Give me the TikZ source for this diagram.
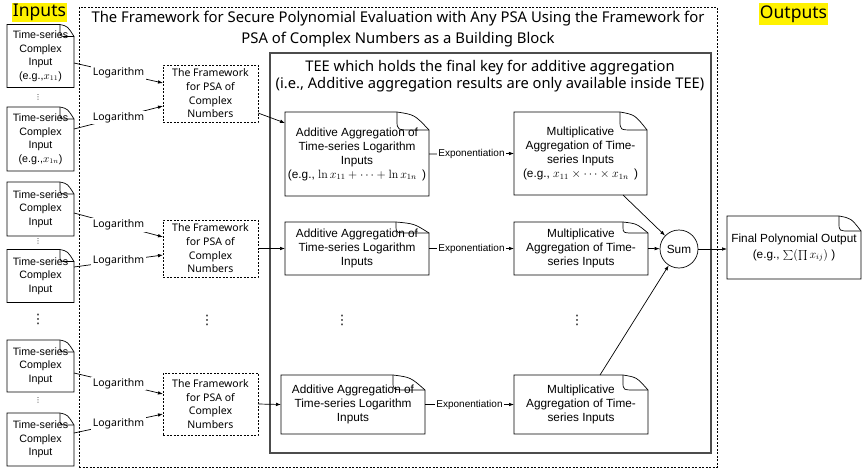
\documentclass[tikz,border=0pt]{standalone}
\usepackage[no-math]{fontspec}
\setmainfont{Liberation Sans}
\newfontfamily\gothic{Noto Sans}
\newfontfamily\symbolfont{DejaVu Sans}
\usetikzlibrary{arrows.meta,calc}

\tikzset{
  inbox/.style={align=center, inner sep=0pt, outer sep=0pt, minimum width=67pt, font=\fontsize{10.7}{13.5}\selectfont},
  aggbox/.style={align=center, inner sep=0pt, outer sep=0pt, font=\fontsize{11.8}{14}\selectfont},
  psabox/.style={draw, dash pattern=on 2pt off 1.5pt, line width=0.7pt, align=center, inner sep=0pt, outer sep=0pt, minimum width=95pt, font=\gothic\fontsize{10.5}{13.7}\selectfont},
  conn/.style={-{Latex[length=5pt,width=3.6pt]}, line width=0.7pt},
  loglabel/.style={fill=white, inner sep=1.5pt, font=\gothic\fontsize{10.5}{12}\selectfont},
  explabel/.style={fill=white, inner sep=1.5pt, font=\fontsize{10}{12}\selectfont},
  highlight/.style={fill=yellow, inner sep=1pt, font=\gothic\fontsize{17.5}{18}\selectfont},
  smalldots/.style={inner sep=0pt, font=\symbolfont\fontsize{7}{7}\selectfont},
  bigdots/.style={inner sep=0pt, font=\symbolfont\fontsize{13}{13}\selectfont},
}

\begin{document}
\begin{tikzpicture}[x=1pt,y=1pt,yscale=-1,xscale=1]
\useasboundingbox (0,0) rectangle (863,474);

%Shape: outer framework
\node (psa) at (398,237) [draw, dash pattern=on 2pt off 1.5pt, line width=0.7pt, inner sep=0pt, minimum width=638pt, minimum height=460pt] {};
\node (psatitle) at (398,29) [align=center, font=\gothic\fontsize{14.85}{21}\selectfont] {The Framework for Secure Polynomial Evaluation with Any PSA Using the Framework for\\PSA of Complex Numbers as a Building Block};

%Shape: TEE
\node (tee) at (490.5,253) [draw=black!70, line width=1.4pt, inner sep=0pt, minimum width=441pt, minimum height=400pt] {};
\node (teetitle) at (490,76.5) [align=center, font=\gothic\fontsize{14.7}{17}\selectfont] {TEE which holds the final key for additive aggregation\\(i.e., Additive aggregation results are only available inside TEE)};

% Text Node
\node (inputs) at (39.5,12) [highlight, minimum height=19pt] {Inputs};
\node (outputs) at (793.5,14) [highlight, minimum height=22pt] {Outputs};

%Shape: inputs
\node (in1) at (40.5,56) [inbox, minimum height=63pt] {Time-series\\Complex\\Input\\(e.g.,$x_{11}$)};
\node (in2) at (40.5,139) [inbox, minimum height=64pt] {Time-series\\Complex\\Input\\(e.g.,$x_{1n}$)};
\node (in3) at (40.5,209) [inbox, minimum height=54pt] {Time-series\\Complex\\Input};
\node (in4) at (40.5,276) [inbox, minimum height=53pt] {Time-series\\Complex\\Input};
\node (in5) at (40.5,366) [inbox, minimum height=52pt] {Time-series\\Complex\\Input};
\node (in6) at (40.5,439.5) [inbox, minimum height=53pt] {Time-series\\Complex\\Input};
\node (dots1) at (38,97) [smalldots] {⋮};
\node (dots2) at (38,241) [smalldots] {⋮};
\node (dots3) at (38,400) [smalldots] {⋮};
\node (dots4) at (38,319) [bigdots] {⋮};

%Shape: PSA of complex numbers
\node (fw1) at (210.5,93.5) [psabox, minimum height=57pt] {The Framework\\for PSA of\\Complex\\Numbers};
\node (fw2) at (210.5,248.5) [psabox, minimum height=57pt] {The Framework\\for PSA of\\Complex\\Numbers};
\node (fw3) at (210.5,404) [psabox, minimum height=62pt] {The Framework\\for PSA of\\Complex\\Numbers};
\node (dots5) at (207,320) [bigdots] {⋮};

%Shape: aggregation
\node (add1) at (357,154) [aggbox, minimum width=144pt, minimum height=84pt] {Additive Aggregation of\\Time-series Logarithm\\Inputs\\(e.g., $\ln x_{11}+\cdots+\ln x_{1n}$ \,)};
\node (add2) at (357,248.5) [aggbox, minimum width=144pt, minimum height=53pt] {Additive Aggregation of\\Time-series Logarithm\\Inputs};
\node (add3) at (353,404.5) [aggbox, minimum width=144pt, minimum height=59pt] {Additive Aggregation of\\Time-series Logarithm\\Inputs};
\node (mult1) at (580.5,153.5) [aggbox, minimum width=133pt, minimum height=83pt] {Multiplicative\\Aggregation of Time-\\series Inputs\\(e.g., $x_{11}\times\cdots\times x_{1n}$ \,)};
\node (mult2) at (581,248.5) [aggbox, minimum width=134pt, minimum height=53pt] {Multiplicative\\Aggregation of Time-\\series Inputs};
\node (mult3) at (581,404.5) [aggbox, minimum width=134pt, minimum height=59pt] {Multiplicative\\Aggregation of Time-\\series Inputs};
\node (dots6) at (342,320) [bigdots] {⋮};
\node (dots7) at (577,320) [bigdots] {⋮};

%Shape: Circle
\node (sum) at (679,249) [draw, circle, line width=0.7pt, minimum size=38pt, inner sep=0pt, font=\fontsize{11.8}{14}\selectfont] {Sum};
\node (final) at (794,247.5) [aggbox, minimum width=134pt, minimum height=63pt] {Final Polynomial Output\\[2pt](e.g., $\sum(\prod x_{ij})$ )};

%Shape: folded corners
\foreach \n/\w/\h in {in1/14/12, in2/14/12, in3/14/12, in4/14/12, in5/14/12, in6/14/12,
  add1/32/18, add2/33/11, add3/32/15, mult1/27/18, mult2/25/11, mult3/25/15, final/22/15}{
  \draw [line width=0.7pt] (\n.south west) -- (\n.north west) -- ($(\n.north east)+(-\w,0)$) .. controls ($(\n.north east)+(-0.45*\w,0.15*\h)$) .. ($(\n.north east)+(0,\h)$) -- (\n.south east) -- cycle ;
  \draw [line width=0.7pt] ($(\n.north east)+(-\w,0)$) -- ($(\n.north east)+(-\w,0.45*\h)$) .. controls ($(\n.north east)+(-\w,\h)$) .. ($(\n.north east)+(-0.5*\w,\h)$) -- ($(\n.north east)+(0,\h)$) ;
}

%Straight Lines
\draw [conn] ([yshift=7pt]in1.east) -- node [loglabel] {Logarithm} ([yshift=-10.5pt]fw1.west) ;
\draw [conn] ([yshift=-10pt]in2.east) -- node [loglabel] {Logarithm} ([yshift=12.5pt]fw1.west) ;
\draw [conn] ([yshift=4pt]in3.east) -- node [loglabel] {Logarithm} ([yshift=-11.5pt]fw2.west) ;
\draw [conn] ([yshift=-9pt]in4.east) -- node [loglabel] {Logarithm} ([yshift=6.5pt]fw2.west) ;
\draw [conn] ([yshift=7pt]in5.east) -- node [loglabel] {Logarithm} ([yshift=-10pt]fw3.west) ;
\draw [conn] ([yshift=-6.5pt]in6.east) -- node [loglabel] {Logarithm} ([yshift=10pt]fw3.west) ;

\draw [conn] ([yshift=19.5pt]fw1.east) -- ([yshift=-31pt]add1.west) ;
\draw [conn] (fw2.east) -- (add2.west) ;
\draw [conn] (fw3.east) -- (add3.west) ;

\draw [conn] (add1.east) -- node [explabel] {Exponentiation} (mult1.west) ;
\draw [conn] (add2.east) -- node [explabel] {Exponentiation} (mult2.west) ;
\draw [conn] (add3.east) -- node [explabel] {Exponentiation} (mult3.west) ;

\draw [conn] ([xshift=42.5pt]mult1.south) -- (sum) ;
\draw [conn] (mult2.east) -- (sum) ;
\draw [conn] ([xshift=19pt]mult3.north) -- (sum) ;
\draw [conn] (sum.east) -- (sum.east -| final.west) ;

\end{tikzpicture}
\end{document}
